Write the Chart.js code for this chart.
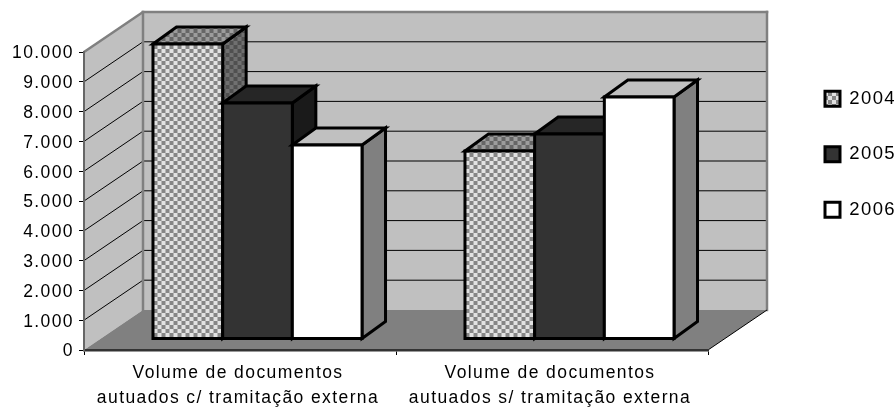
<!DOCTYPE html>
<html>
<head>
<meta charset="utf-8">
<style>html,body{margin:0;padding:0;background:#fff}#w{width:896px;height:409px}canvas{display:block}</style>
<script src="https://cdn.jsdelivr.net/npm/chart.js@4"></script>
</head>
<body>
<div id="w"><canvas id="c" width="896" height="409"></canvas></div>
<script>
const categories = [
  ['Volume de documentos', 'autuados c/ tramitação externa'],
  ['Volume de documentos', 'autuados s/ tramitação externa']
];
const seriesNames = ['2004', '2005', '2006'];
const values2004 = [9900, 6310];
const values2005 = [7920, 6880];
const values2006 = [6510, 8120];

function checker(a, b) {
  const k = document.createElement('canvas');
  k.width = 8; k.height = 8;
  const g = k.getContext('2d');
  g.fillStyle = a; g.fillRect(0, 0, 8, 8);
  g.fillStyle = b; g.fillRect(0, 0, 4, 4); g.fillRect(4, 4, 4, 4);
  return g.createPattern(k, 'repeat');
}
const faces = [
  { front: checker('#E2E2E2', '#868686'), top: checker('#9C9C9C', '#666666'), side: checker('#707070', '#505050') },
  { front: '#333333', top: '#262626', side: '#1A1A1A' },
  { front: '#FFFFFF', top: '#C0C0C0', side: '#808080' }
];

const WALL_DX = 59, WALL_DY = -40;
const BAR_SHIFT_X = 17.5, BAR_SHIFT_Y = -11;
const BAR_DX = 23.5, BAR_DY = -17;
const TEXT_SPACING = '1.4px';

function poly(ctx, pts, fill, stroke, lw) {
  ctx.beginPath();
  pts.forEach((p, i) => i ? ctx.lineTo(p[0], p[1]) : ctx.moveTo(p[0], p[1]));
  ctx.closePath();
  if (fill) { ctx.fillStyle = fill; ctx.fill(); }
  if (stroke) { ctx.strokeStyle = stroke; ctx.lineWidth = lw; ctx.lineJoin = 'miter'; ctx.stroke(); }
}
function seg(ctx, x1, y1, x2, y2, color, lw) {
  ctx.beginPath(); ctx.moveTo(x1, y1); ctx.lineTo(x2, y2);
  ctx.strokeStyle = color; ctx.lineWidth = lw; ctx.stroke();
}
function nudgeLabels(scale, ox, oy) {
  const orig = scale.constructor.prototype.getLabelItems;
  scale.getLabelItems = function (area) {
    return orig.call(this, area).map(it => ({
      ...it,
      options: { ...it.options, translation: [it.options.translation[0] + ox, it.options.translation[1] + oy] }
    }));
  };
}

const walls3d = {
  id: 'walls3d',
  beforeLayout(chart) { chart.ctx.letterSpacing = TEXT_SPACING; },
  afterLayout(chart) {
    const l = chart.legend, p = l.options.labels.padding;
    const w = l.width, h = l.height;
    l.left = 825 - p; l.right = l.left + w;
    l.top = 89.5 - p; l.bottom = l.top + h;
  },
  beforeDraw(chart) {
    const ctx = chart.ctx;
    ctx.letterSpacing = TEXT_SPACING;
    const x = chart.scales.x, y = chart.scales.y;
    const L = x.left, R = x.right, B = y.getPixelForValue(0), T = y.getPixelForValue(10000);
    const dx = WALL_DX, dy = WALL_DY;
    ctx.save();
    poly(ctx, [[L + dx, T + dy], [R + dx, T + dy], [R + dx, B + dy], [L + dx, B + dy]], '#C0C0C0');
    poly(ctx, [[L, T], [L + dx, T + dy], [L + dx, B + dy], [L, B]], '#C0C0C0');
    poly(ctx, [[L, B], [L + dx, B + dy], [R + dx, B + dy], [R, B]], '#808080');
    y.ticks.forEach(t => {
      if (t.value === 0 || t.value === 10000) return;
      const py = y.getPixelForValue(t.value);
      seg(ctx, L, py, L + dx, py + dy, '#000', 1);
      seg(ctx, L + dx, py + dy, R + dx, py + dy, '#000', 1);
    });
    seg(ctx, L, T, L + dx, T + dy, '#808080', 2.5);
    ctx.lineCap = 'square';
    seg(ctx, L + dx, T + dy, R + dx, T + dy, '#808080', 2.5);
    seg(ctx, L + dx, T + dy, L + dx, B + dy, '#808080', 2.5);
    seg(ctx, R + dx, T + dy, R + dx, B + dy, '#808080', 2.5);
    ctx.lineCap = 'butt';
    seg(ctx, R, B, R + dx, B + dy, '#000', 1);
    ctx.restore();
  },
  beforeDatasetsDraw(chart) {
    const ctx = chart.ctx;
    chart.data.datasets.forEach((ds, i) => {
      const meta = chart.getDatasetMeta(i), f = faces[i];
      ctx.save();
      ctx.translate(BAR_SHIFT_X, BAR_SHIFT_Y);
      meta.data.forEach(el => {
        const l = el.x - el.width / 2, r = el.x + el.width / 2, t = el.y, b = el.base;
        poly(ctx, [[r, t], [r + BAR_DX, t + BAR_DY], [r + BAR_DX, b + BAR_DY], [r, b]], f.side, '#000', 3);
        poly(ctx, [[l, t], [l + BAR_DX, t + BAR_DY], [r + BAR_DX, t + BAR_DY], [r, t]], f.top, '#000', 3);
      });
      meta.controller.draw();
      meta.data.forEach(el => {
        const l = el.x - el.width / 2, r = el.x + el.width / 2;
        poly(ctx, [[l, el.y], [r, el.y], [r, el.base], [l, el.base]], null, '#000', 3);
      });
      ctx.restore();
    });
    return false;
  }
};

const seriesValues = [values2004, values2005, values2006];
const chart = new Chart(document.getElementById('c'), {
  type: 'bar',
  data: {
    labels: categories,
    datasets: seriesNames.map((n, i) => ({
      label: n,
      data: seriesValues[i],
      backgroundColor: faces[i].front,
      borderWidth: 0,
      categoryPercentage: 0.67,
      barPercentage: 1
    }))
  },
  plugins: [walls3d],
  options: {
    responsive: false,
    animation: false,
    events: [],
    layout: { padding: { left: 0, right: 40, top: 52, bottom: 0 } },
    plugins: {
      tooltip: { enabled: false },
      legend: {
        position: 'right',
        align: 'start',
        labels: {
          color: '#000',
          font: { family: '"Liberation Sans", Arial, sans-serif', size: 18.5 },
          boxWidth: 15, boxHeight: 15, padding: 37,
          generateLabels(chart) {
            return chart.data.datasets.map((d, i) => ({
              text: d.label, fillStyle: d.backgroundColor, strokeStyle: '#000',
              lineWidth: 3, datasetIndex: i, hidden: false, fontColor: '#000'
            }));
          }
        }
      }
    },
    scales: {
      x: {
        afterFit(s) { s.height = 59; nudgeLabels(s, -2, 0); },
        grid: { drawOnChartArea: false, tickLength: 5, color: '#000', lineWidth: 1 },
        border: { color: '#333333', width: 2.5 },
        ticks: {
          color: '#000', autoSkip: false, maxRotation: 0, padding: 6,
          font: { family: '"Liberation Sans", Arial, sans-serif', size: 17.5, lineHeight: 1.43 }
        }
      },
      y: {
        min: 0, max: 10000,
        afterFit(s) { s.width = 84; nudgeLabels(s, 0, 1.5); },
        grid: { drawOnChartArea: false, tickLength: 5, color: '#000', lineWidth: 1 },
        border: { color: '#666666', width: 2 },
        ticks: {
          stepSize: 1000, color: '#000', padding: 5,
          font: { family: '"Liberation Sans", Arial, sans-serif', size: 17.5 },
          callback: v => String(v).replace(/\B(?=(\d{3})+$)/g, '.')
        }
      }
    }
  }
});
chart.options.layout.padding.right += chart.chartArea.right - 708;
chart.update();
chart.options.layout.padding.right += chart.chartArea.right - 708;
chart.update();
</script>
</body>
</html>
